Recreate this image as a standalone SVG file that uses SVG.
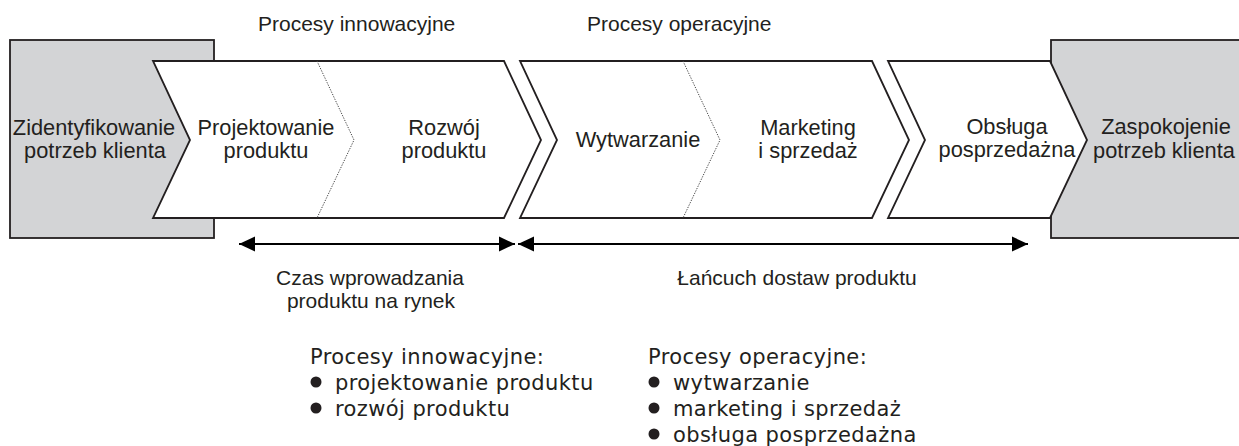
<svg xmlns="http://www.w3.org/2000/svg" width="1239" height="446" viewBox="0 0 1239 446">
<style>
  .box{fill:#d3d4d6;stroke:#231f20;stroke-width:1.8}
  .chev{fill:#ffffff;stroke:#231f20;stroke-width:1.8;stroke-linejoin:miter}
  .dot{fill:none;stroke:#4a4a4a;stroke-width:1;stroke-dasharray:1.3 1.3}
  .t{font-family:"Liberation Sans",Arial,sans-serif;font-size:21px;fill:#231f20}
  .n{font-size:21.8px}
  .c{text-anchor:middle}
  .b{font-family:"DejaVu Sans",Verdana,sans-serif;font-size:21px;letter-spacing:0.4px;fill:#231f20}
  .ln{stroke:#000;stroke-width:2;fill:none}
</style>
<defs>
  <marker id="ah" markerUnits="userSpaceOnUse" markerWidth="17" markerHeight="17" viewBox="0 0 17 17" refX="16" refY="8.5" orient="auto-start-reverse">
    <path d="M0,1 L16,8.5 L0,16 Z" fill="#000"/>
  </marker>
</defs>
<rect width="1239" height="446" fill="#ffffff"/>

<g id="start">
  <rect class="box" x="10" y="40" width="204" height="198"/>
  <text class="t n c" x="94" y="135">Zidentyfikowanie</text>
  <text class="t n c" x="95" y="158">potrzeb klienta</text>
</g>
<g id="end">
  <rect class="box" x="1051" y="40" width="200" height="198"/>
  <text class="t n c" x="1166" y="134">Zaspokojenie</text>
  <text class="t n c" x="1164" y="158">potrzeb klienta</text>
</g>

<g id="innovation">
  <polygon class="chev" points="153,61 504,61 541,140 504,218 153,218 190,140"/>
  <polyline class="dot" points="317,61 354,140 317,218"/>
  <text class="t n c" x="266" y="135">Projektowanie</text>
  <text class="t n c" x="266" y="158">produktu</text>
  <text class="t n c" x="444" y="135">Rozwój</text>
  <text class="t n c" x="444" y="158">produktu</text>
</g>

<g id="operations">
  <polygon class="chev" points="520,61 872,61 909,140 872,218 520,218 557,140"/>
  <polyline class="dot" points="683,61 720,140 683,218"/>
  <text class="t n c" x="638" y="147">Wytwarzanie</text>
  <text class="t n c" x="808" y="135">Marketing</text>
  <text class="t n c" x="808" y="158">i sprzedaż</text>
</g>

<g id="aftersales">
  <polygon class="chev" points="888,61 1050,61 1087,140 1050,218 888,218 925,140"/>
  <text class="t n c" x="1007" y="134">Obsługa</text>
  <text class="t n c" x="1007" y="157">posprzedażna</text>
</g>

<g id="headers">
  <text class="t" x="258" y="31">Procesy innowacyjne</text>
  <text class="t" x="587" y="31">Procesy operacyjne</text>
</g>

<g id="connectors">
  <line class="ln" x1="239" y1="244" x2="515" y2="244" marker-start="url(#ah)" marker-end="url(#ah)"/>
  <line class="ln" x1="518" y1="244" x2="1028" y2="244" marker-start="url(#ah)" marker-end="url(#ah)"/>
</g>

<g id="spans">
  <text class="t c" x="370" y="285">Czas wprowadzania</text>
  <text class="t c" x="371" y="308">produktu na rynek</text>
  <text class="t c" x="797" y="285">Łańcuch dostaw produktu</text>
</g>

<g id="legend-innovation">
  <text class="b" x="310" y="364">Procesy innowacyjne:</text>
  <circle cx="316" cy="382" r="5.5" fill="#231f20"/>
  <text class="b" x="335" y="390">projektowanie produktu</text>
  <circle cx="316" cy="408" r="5.5" fill="#231f20"/>
  <text class="b" x="335" y="416">rozwój produktu</text>
</g>

<g id="legend-operations">
  <text class="b" x="648" y="364">Procesy operacyjne:</text>
  <circle cx="654" cy="382" r="5.5" fill="#231f20"/>
  <text class="b" x="673" y="390">wytwarzanie</text>
  <circle cx="654" cy="408" r="5.5" fill="#231f20"/>
  <text class="b" x="673" y="416">marketing i sprzedaż</text>
  <circle cx="654" cy="434" r="5.5" fill="#231f20"/>
  <text class="b" x="673" y="442">obsługa posprzedażna</text>
</g>
</svg>
